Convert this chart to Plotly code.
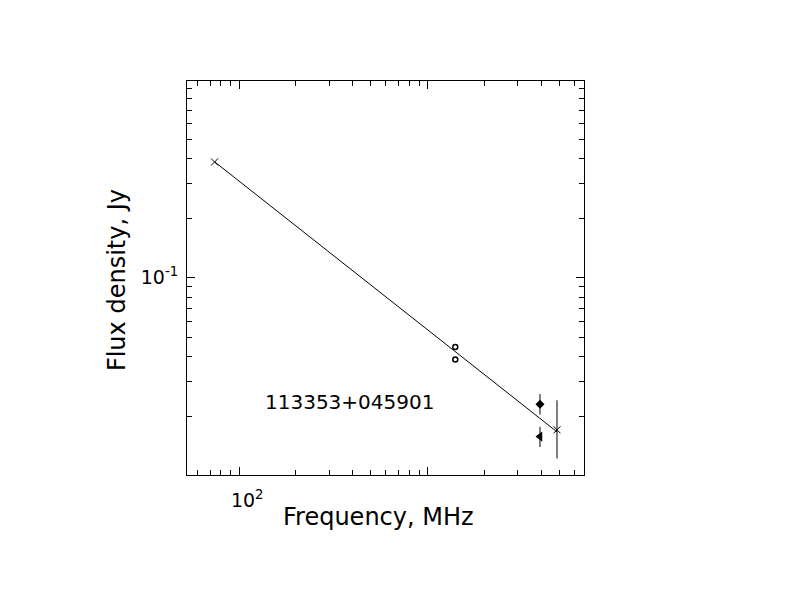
import plotly.graph_objects as go

# Catalogue points
cross_freq = [74, 4850]
cross_flux = [0.384, 0.0171]
cross_hi = [0.384, 0.0241]
cross_lo = [0.384, 0.01225]

circle_freq = [1400, 1400]
circle_flux = [0.0447, 0.0387]

diamond_freq = [3940]
diamond_flux = [0.0230]
diamond_hi = [0.0259]
diamond_lo = [0.0204]

tri_freq = [3940]
tri_flux = [0.0158]
tri_hi = [0.0177]
tri_lo = [0.0140]

# Power-law fit end points
fit_freq = [74, 4850]
fit_flux = [0.385, 0.0167]

source_name = '113353+045901'

x_major = [100, 1000]
x_major_text = ['10<sup>2</sup>', '']
x_minor = [60, 70, 80, 90, 200, 300, 400, 500, 600, 700, 800, 900, 2000, 3000, 4000, 5000, 6000]
y_major = [0.1]
y_major_text = ['10<sup>-1</sup>']
y_minor = [0.02, 0.03, 0.04, 0.05, 0.06, 0.07, 0.08, 0.09, 0.2, 0.3, 0.4, 0.5, 0.6, 0.7, 0.8, 0.9]


def err(vals, hi, lo):
  plus = [h - v for v, h in zip(vals, hi)]
  minus = [v - l for v, l in zip(vals, lo)]
  return dict(type='data', symmetric=False, array=plus, arrayminus=minus,
              color='black', thickness=1, width=0)


fig = go.Figure()
fig.add_trace(go.Scatter(x=fit_freq, y=fit_flux, mode='lines',
                         line=dict(color='black', width=1)))
fig.add_trace(go.Scatter(x=cross_freq, y=cross_flux, mode='markers',
                         marker=dict(symbol='x-thin', size=7, line=dict(color='black', width=1)),
                         error_y=err(cross_flux, cross_hi, cross_lo)))
fig.add_trace(go.Scatter(x=circle_freq, y=circle_flux, mode='markers',
                         marker=dict(symbol='circle-open', size=5, color='black', line=dict(width=1.5))))
fig.add_trace(go.Scatter(x=diamond_freq, y=diamond_flux, mode='markers',
                         marker=dict(symbol='diamond', size=7, color='black'),
                         error_y=err(diamond_flux, diamond_hi, diamond_lo)))
fig.add_trace(go.Scatter(x=tri_freq, y=tri_flux, mode='markers',
                         marker=dict(symbol='triangle-left', size=9, color='black'),
                         error_y=err(tri_flux, tri_hi, tri_lo)))

axis_common = dict(
  showline=True, linecolor='black', linewidth=1, mirror='allticks',
  showgrid=False, zeroline=False, ticks='inside', ticklen=8, tickcolor='black',
  tickmode='array',
)
fig.update_xaxes(type='log', range=[1.723, 3.829], tickvals=x_major, ticktext=x_major_text,
                 ticklabelstandoff=8, ticklabelshift=8,
                 minor=dict(tickmode='array', tickvals=x_minor, ticks='inside', ticklen=5,
                            tickcolor='black', showgrid=False),
                 **axis_common)
fig.update_yaxes(type='log', range=[-1.995, -0.007], tickvals=y_major, ticktext=y_major_text,
                 ticklabelstandoff=4,
                 minor=dict(tickmode='array', tickvals=y_minor, ticks='inside', ticklen=5,
                            tickcolor='black', showgrid=False),
                 **axis_common)

fig.add_annotation(text=source_name, xref='x', yref='y', x=2.586, y=-1.628,
                   showarrow=False, font=dict(size=20))
fig.add_annotation(text='Frequency, MHz', xref='paper', yref='paper', x=0.482, y=-0.107,
                   xanchor='center', yanchor='middle', showarrow=False, font=dict(size=24))
fig.add_annotation(text='Flux density, Jy', xref='paper', yref='paper', x=-0.176, y=0.495,
                   xanchor='center', yanchor='middle', textangle=-90, showarrow=False,
                   font=dict(size=24))

# page body adds an 8px offset, so margins are pulled in by that much
fig.update_layout(
  width=792, height=612,
  margin=dict(l=179, r=216, t=73, b=145),
  paper_bgcolor='white', plot_bgcolor='white',
  showlegend=False,
  font=dict(family='DejaVu Sans', color='black', size=19),
)
fig.write_html('out.html')
